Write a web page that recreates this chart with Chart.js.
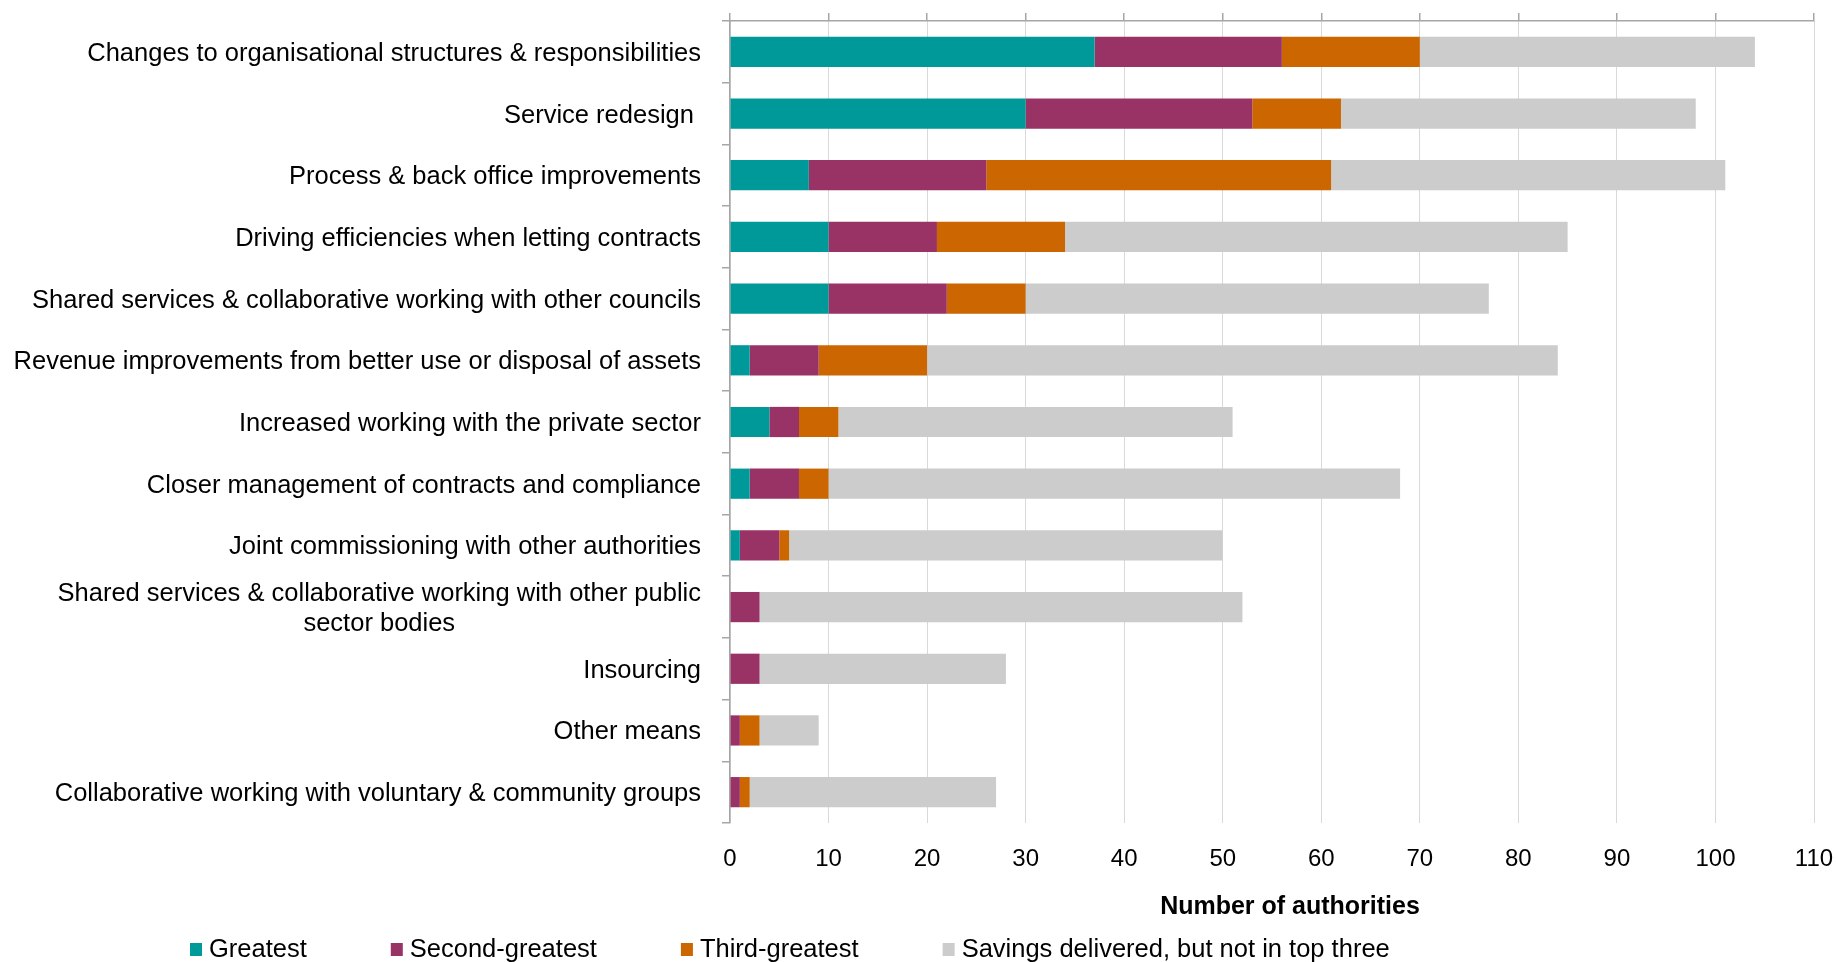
<!DOCTYPE html>
<html>
<head>
<meta charset="utf-8">
<script src="https://cdn.jsdelivr.net/npm/chart.js@4.4.1/dist/chart.umd.min.js"></script>
<style>
  body { margin: 0; background: #fff; }
  canvas { display: block; }
</style>
</head>
<body>
<canvas id="chart" width="1838" height="962"></canvas>
<script>
// categories (a wrapped label is an array of lines)
const categories = [
  ['Changes to organisational structures & responsibilities'],
  ['Service redesign '],
  ['Process & back office improvements'],
  ['Driving efficiencies when letting contracts'],
  ['Shared services & collaborative working with other councils'],
  ['Revenue improvements from better use or disposal of assets'],
  ['Increased working with the private sector'],
  ['Closer management of contracts and compliance'],
  ['Joint commissioning with other authorities'],
  ['Shared services & collaborative working with other public', 'sector bodies'],
  ['Insourcing'],
  ['Other means'],
  ['Collaborative working with voluntary & community groups']
];

// number of authorities per category
const greatest       = [37, 30,  8, 10, 10,  2,  4,  2,  1,  0,  0, 0,  0];
const secondGreatest = [19, 23, 18, 11, 12,  7,  3,  5,  4,  3,  3, 1,  1];
const thirdGreatest  = [14,  9, 35, 13,  8, 11,  4,  3,  1,  0,  0, 2,  1];
const notTopThree    = [34, 36, 40, 51, 47, 64, 40, 58, 44, 49, 25, 6, 25];

const seriesNames = ['Greatest', 'Second-greatest', 'Third-greatest', 'Savings delivered, but not in top three'];
const xTickValues = [0, 10, 20, 30, 40, 50, 60, 70, 80, 90, 100, 110];
const axisTitle = 'Number of authorities';

const font = '"Liberation Sans", Arial, sans-serif';
const axisGrey = '#a6a6a6';

// labels, legend and axis title drawn by hand to get the Excel layout
const textPlugin = {
  id: 'textPlugin',
  afterDraw(chart) {
    let ctx = chart.ctx;
    let yScale = chart.scales.y;
    let labelRight = 701;
    ctx.save();
    ctx.fillStyle = '#000';
    ctx.textBaseline = 'middle';
    ctx.font = '25.5px ' + font;

    categories.forEach((lines, i) => {
      let yMid = yScale.getPixelForValue(i) + 2;
      let widest = Math.max(...lines.map(l => ctx.measureText(l).width));
      lines.forEach((line, j) => {
        let y = yMid + (j - (lines.length - 1) / 2) * 30;
        if (lines.length > 1) {
          // wrapped label: lines centred on each other
          ctx.textAlign = 'center';
          ctx.fillText(line, labelRight - widest / 2, y);
        } else {
          ctx.textAlign = 'right';
          ctx.fillText(line, labelRight, y);
        }
      });
    });

    // axis title
    ctx.font = 'bold 25px ' + font;
    ctx.textAlign = 'center';
    ctx.fillText(axisTitle, 1290, 907);

    // legend
    ctx.font = '25.5px ' + font;
    ctx.textAlign = 'left';
    let x = 190;
    chart.data.datasets.forEach(ds => {
      ctx.fillStyle = ds.backgroundColor;
      ctx.fillRect(x, 943, 12, 13);
      ctx.fillStyle = '#000';
      ctx.fillText(ds.label, x + 19, 950);
      x += 19 + ctx.measureText(ds.label).width + 84;
    });
    ctx.restore();
  }
};

function setTicks(scale) {
  scale.ticks = xTickValues.map(v => ({ value: v }));
}

new Chart(document.getElementById('chart'), {
  type: 'bar',
  data: {
    labels: categories,
    datasets: [
      { label: seriesNames[0], data: greatest, backgroundColor: '#009999' },
      { label: seriesNames[1], data: secondGreatest, backgroundColor: '#993366' },
      { label: seriesNames[2], data: thirdGreatest, backgroundColor: '#cc6600' },
      { label: seriesNames[3], data: notTopThree, backgroundColor: '#cccccc' }
    ]
  },
  options: {
    indexAxis: 'y',
    responsive: false,
    animation: false,
    layout: { padding: { left: 0, right: 24, top: 0, bottom: 0 } },
    datasets: {
      bar: { barPercentage: 0.49, categoryPercentage: 1, borderWidth: 0 }
    },
    plugins: {
      legend: { display: false },
      tooltip: { enabled: false }
    },
    scales: {
      x: {
        type: 'linear',
        position: 'bottom',
        stacked: true,
        min: 0,
        max: 110,
        afterBuildTicks: setTicks,
        afterFit: s => { s.height = 139; s.paddingLeft = 0; s.paddingRight = 0; },
        grid: { color: '#d9d9d9', lineWidth: 1, drawTicks: false },
        border: { display: false },
        ticks: { color: '#000', padding: 22, font: { family: font, size: 24 } }
      },
      x2: {
        type: 'linear',
        position: 'top',
        min: 0,
        max: 110,
        afterBuildTicks: setTicks,
        afterFit: s => { s.height = 21; s.paddingLeft = 0; s.paddingRight = 0; },
        grid: { drawOnChartArea: false, drawTicks: true, tickLength: 8, color: axisGrey, lineWidth: 1.5 },
        border: { display: true, color: axisGrey, width: 1.5 },
        ticks: { display: false }
      },
      y: {
        stacked: true,
        afterFit: s => { s.width = 730; },
        grid: { offset: true, drawOnChartArea: false, drawTicks: true, tickLength: 8, color: axisGrey, lineWidth: 1.5 },
        border: { display: true, color: axisGrey, width: 1.5 },
        ticks: { display: false }
      }
    }
  },
  plugins: [textPlugin]
});
</script>
</body>
</html>
